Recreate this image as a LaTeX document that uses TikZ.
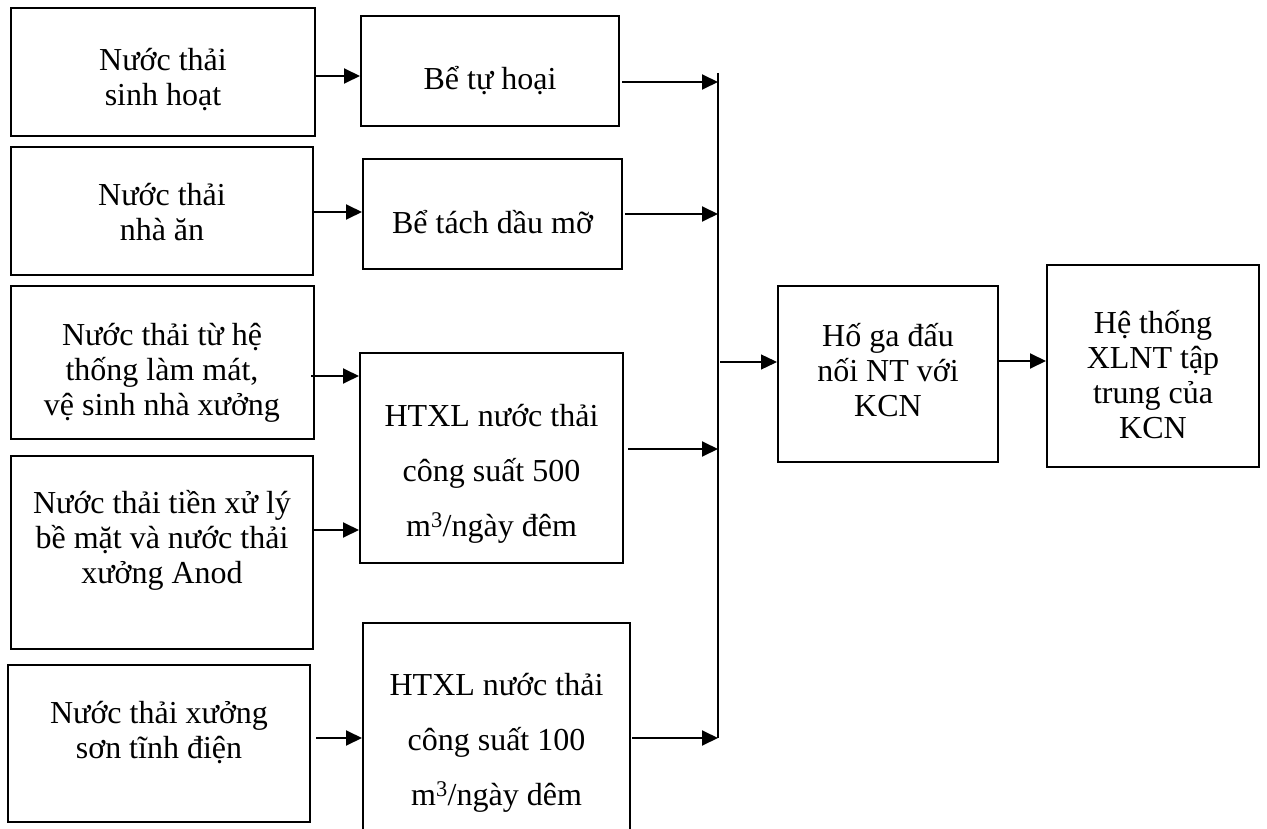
\documentclass[tikz,border=0pt]{standalone}
\usepackage{fontspec}
\setmainfont{Liberation Serif}
\usetikzlibrary{arrows.meta}
\begin{document}
\begin{tikzpicture}[x=1pt,y=-1pt,
  box/.style={draw, line width=2pt, inner sep=0pt},
  lbl/.style={anchor=north, inner sep=0pt, align=center, font=\fontsize{32}{35}\selectfont},
  wide/.style={font=\fontsize{32}{55}\selectfont},
  tip/.style={-{Triangle[length=16pt,width=15pt]}},
  arr/.style={line width=1.9pt, tip},
  busline/.style={line width=1.3pt}]
\useasboundingbox (0,0) rectangle (1267,829);
\fill[white] (0,0) rectangle (1267,829);
\clip (0,0) rectangle (1267,829);

% sources
\node[box, minimum width=304pt, minimum height=128pt] (b1) at (163,72) {};
\node[box, minimum width=302pt, minimum height=128pt] (b2) at (162,211) {};
\node[box, minimum width=303pt, minimum height=153pt] (b3) at (162.5,362.5) {};
\node[box, minimum width=302pt, minimum height=193pt] (b4) at (162,552.5) {};
\node[box, minimum width=302pt, minimum height=157pt] (b5) at (159,743.5) {};

\node[lbl] (t1) at (163,38) {\rule{0pt}{32pt}Nước thải\\sinh hoạt};
\node[lbl] (t2) at (162,173) {\rule{0pt}{32pt}Nước thải\\nhà ăn};
\node[lbl] (t3) at (162,313) {\rule{0pt}{32pt}Nước thải từ hệ\\thống làm mát,\\vệ sinh nhà xưởng};
\node[lbl] (t4) at (162,481) {\rule{0pt}{32pt}Nước thải tiền xử lý\\bề mặt và nước thải\\xưởng Anod};
\node[lbl] (t5) at (159,691) {\rule{0pt}{32pt}Nước thải xưởng\\sơn tĩnh điện};

% treatment units
\node[box, minimum width=258pt, minimum height=110pt] (bth) at (490,71) {};
\node[box, minimum width=259pt, minimum height=110pt] (btd) at (492.5,214) {};
\node[box, minimum width=263pt, minimum height=210pt] (h500) at (491.5,458) {};
\node[box, minimum width=267pt, minimum height=222pt] (h100) at (496.5,734) {};

\node[lbl] (t6) at (490,57) {\rule{0pt}{32pt}Bể tự hoại};
\node[lbl] (t7) at (492.5,201) {\rule{0pt}{32pt}Bể tách dầu mỡ};
\node[lbl, wide] (t8) at (491.5,394) {\rule{0pt}{32pt}HTXL nước thải\\công suất 500\\m\textsuperscript{3}/ngày đêm};
\node[lbl, wide] (t9) at (496.5,663) {\rule{0pt}{32pt}HTXL nước thải\\công suất 100\\m\textsuperscript{3}/ngày dêm};

% connection pit and central plant
\node[box, minimum width=220pt, minimum height=176pt] (hoga) at (888,374) {};
\node[box, minimum width=212pt, minimum height=202pt] (hts) at (1153,366) {};
\node[lbl] (t10) at (888,314) {\rule{0pt}{32pt}Hố ga đấu\\nối NT với\\KCN};
\node[lbl] (t11) at (1153,301) {\rule{0pt}{32pt}Hệ thống\\XLNT tập\\trung của\\KCN};

% collector line
\coordinate (busT) at (718,73);
\coordinate (busB) at (718,738);
\draw[busline] (busT) -- (busB);

% arrow heights
\coordinate (r1) at (0,76);
\coordinate (r2) at (0,212);
\coordinate (r3) at (0,376);
\coordinate (r4) at (0,530);
\coordinate (r5) at (0,738);
\coordinate (r6) at (0,82);
\coordinate (r7) at (0,214);
\coordinate (r8) at (0,449);
\coordinate (r9) at (0,738);
\coordinate (r10) at (0,362);
\coordinate (r11) at (0,361);

\draw[arr] (b1.east |- r1) -- (bth.west |- r1);
\draw[arr] (b2.east |- r2) -- (btd.west |- r2);
\draw[arr] ([xshift=-4pt]b3.east |- r3) -- (h500.west |- r3);
\draw[arr] (b4.east |- r4) -- (h500.west |- r4);
\draw[arr] ([xshift=5pt]b5.east |- r5) -- (h100.west |- r5);

\draw[arr] ([xshift=2pt]bth.east |- r6) -- (busT |- r6);
\draw[arr] ([xshift=2pt]btd.east |- r7) -- (busT |- r7);
\draw[arr] ([xshift=4pt]h500.east |- r8) -- (busT |- r8);
\draw[arr] ([xshift=1pt]h100.east |- r9) -- (busT |- r9);

\draw[busline, tip] ([xshift=2pt]busT |- r10) -- (hoga.west |- r10);
\draw[arr] (hoga.east |- r11) -- (hts.west |- r11);
\end{tikzpicture}
\end{document}
